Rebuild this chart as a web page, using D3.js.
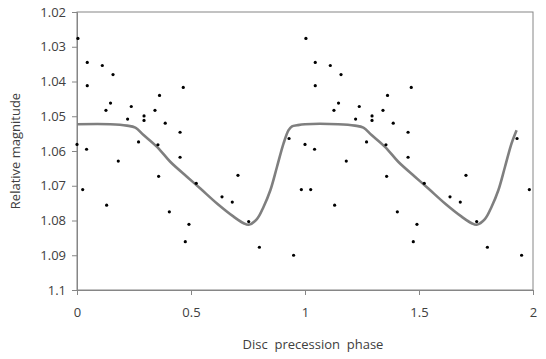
<!DOCTYPE html>
<html>
<head>
<meta charset="utf-8">
<script src="https://cdn.jsdelivr.net/npm/d3@7"></script>
<style>
  body { margin: 0; background: #fff; }
  svg text { font-family: "Open Sans", sans-serif; fill: #404040; }
</style>
</head>
<body>
<svg id="chart" width="546" height="359"></svg>
<script>
// observations over one precession cycle, repeated once more at phase + 1
var obsPhase = [0.004, 0.045, 0.045, 0.111, 0.158, 0.147, 0.127, 0.238, 0.222,
  0.294, 0.294, 0.342, 0.362, 0.387, 0.466, 0.452, 0.270, 0.355, 0.0, 0.042,
  0.025, 0.130, 0.181, 0.358, 0.452, 0.405, 0.491, 0.475, 0.523, 0.636, 0.681,
  0.706, 0.753, 0.800, 0.950, 0.984, 0.930];
var obsMag = [1.0276, 1.0345, 1.0412, 1.0354, 1.0380, 1.0462, 1.0483, 1.0472, 1.0508,
  1.0499, 1.0512, 1.0483, 1.0440, 1.0520, 1.0417, 1.0546, 1.0574, 1.0582, 1.0581, 1.0595,
  1.0711, 1.0756, 1.0629, 1.0673, 1.0618, 1.0775, 1.0811, 1.0861, 1.0693, 1.0732, 1.0747,
  1.0670, 1.0803, 1.0877, 1.0900, 1.0711, 1.0564];

// model curve for one cycle
var modelPhase = [0, 0.146, 0.219, 0.256, 0.292, 0.351, 0.409, 0.482, 0.541, 0.614,
  0.687, 0.731, 0.753, 0.789, 0.818, 0.848, 0.877, 0.906, 0.928, 0.943, 0.965];
var modelMag = [1.0523, 1.0523, 1.0527, 1.0533, 1.0554, 1.0588, 1.0631, 1.0674, 1.0708, 1.0751,
  1.0789, 1.0808, 1.0812, 1.0796, 1.0761, 1.0713, 1.0646, 1.0578, 1.0540, 1.0529, 1.0526];

var xTicks = [0, 0.5, 1, 1.5, 2];
var yTicks = [1.02, 1.03, 1.04, 1.05, 1.06, 1.07, 1.08, 1.09, 1.1];

var margin = { top: 12, right: 13, bottom: 69, left: 77 },
  width = 546 - margin.left - margin.right,
  height = 359 - margin.top - margin.bottom;

var svg = d3.select("#chart");
var g = svg.append("g").attr("transform", `translate(${margin.left},${margin.top})`);

var x = d3.scaleLinear().domain([0, 2]).range([0, width]);
var y = d3.scaleLinear().domain([1.02, 1.1]).range([0, height]);

// points for both cycles
var points = [];
[0, 1].forEach(function (shift) {
  obsPhase.forEach(function (p, i) {
    points.push({ phase: p + shift, mag: obsMag[i] });
  });
});

// curve: full first cycle, second cycle stops before the final rise ends
var curve = [];
modelPhase.forEach(function (p, i) {
  curve.push({ phase: p, mag: modelMag[i] });
});
modelPhase.forEach(function (p, i) {
  if (p <= 0.93) curve.push({ phase: p + 1, mag: modelMag[i] });
});

// frame
g.append("rect")
  .attr("width", width)
  .attr("height", height)
  .attr("fill", "none")
  .attr("stroke", "#868686")
  .attr("stroke-width", 1);

var yAxis = g.append("g")
  .call(d3.axisLeft(y).tickValues(yTicks).tickSize(5).tickPadding(6)
    .tickFormat(function (d) { return d3.format("")(+d.toFixed(2)); }));
var xAxis = g.append("g")
  .attr("transform", `translate(0,${height})`)
  .call(d3.axisBottom(x).tickValues(xTicks).tickSize(5).tickPadding(13)
    .tickFormat(function (d) { return d; }));

[xAxis, yAxis].forEach(function (ax) {
  ax.select(".domain").attr("stroke", "#868686");
  ax.selectAll(".tick line").attr("stroke", "#868686");
  ax.selectAll("text").attr("font-size", 13).attr("fill", "#383838")
    .style("font-family", '"Open Sans", sans-serif');
});

var line = d3.line()
  .x(function (d) { return x(d.phase); })
  .y(function (d) { return y(d.mag); })
  .curve(d3.curveCatmullRom);

g.append("path")
  .datum(curve)
  .attr("fill", "none")
  .attr("stroke", "#7f7f7f")
  .attr("stroke-width", 2.6)
  .attr("d", line);

g.selectAll(".dot")
  .data(points)
  .enter()
  .append("circle")
  .attr("class", "dot")
  .attr("cx", function (d) { return x(d.phase); })
  .attr("cy", function (d) { return y(d.mag); })
  .attr("r", 1.6)
  .attr("fill", "#000");

svg.append("text")
  .attr("x", 313)
  .attr("y", 349)
  .attr("text-anchor", "middle")
  .attr("font-size", 13)
  .attr("fill", "#383838")
  .attr("xml:space", "preserve")
  .style("white-space", "pre")
  .text("Disc  precession  phase");

svg.append("text")
  .attr("transform", "translate(20,151) rotate(-90)")
  .attr("text-anchor", "middle")
  .attr("font-size", 13)
  .attr("fill", "#383838")
  .text("Relative magnitude");
</script>
</body>
</html>
